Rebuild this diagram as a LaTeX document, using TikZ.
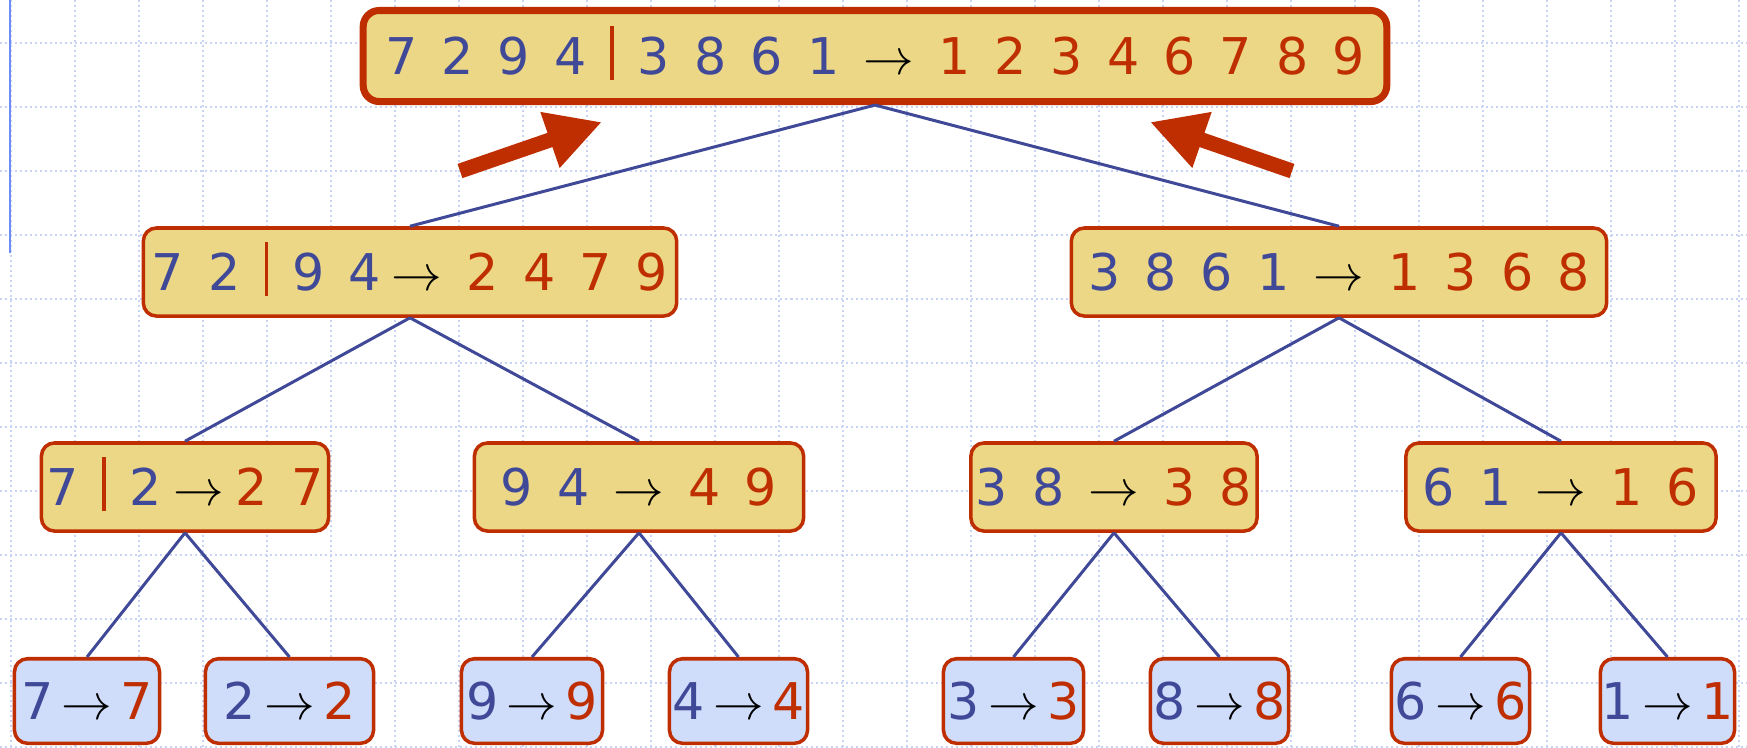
\documentclass[tikz,border=0pt]{standalone}
\usepackage{fontspec}
\setmainfont{DejaVu Sans}[WordSpace=1.5]
\usepackage{xcolor}
\usetikzlibrary{arrows.meta}

\definecolor{unsorted}{RGB}{64,72,152}
\definecolor{sorted}{RGB}{191,46,0}
\definecolor{boxtan}{RGB}{235,215,133}
\definecolor{leafblue}{RGB}{207,220,250}
\definecolor{gridblue}{RGB}{200,212,245}
\definecolor{marginblue}{RGB}{110,140,245}

\newcommand{\unsrt}[1]{\textcolor{unsorted}{#1}}
\newcommand{\srt}[1]{\textcolor{sorted}{#1}}
\newcommand{\divider}{\textcolor{sorted}{\rule[-1.7pt]{0.95pt}{15.6pt}}}
\newcommand{\goes}{$\rightarrow$}
\newcommand{\tightgoes}{$\:\rightarrow\:$}

\tikzset{
  seqbox/.style={draw=sorted, line width=1pt, rounded corners=0.13cm,
    inner xsep=0pt, text height=10.5pt, text depth=0pt,
    font=\fontsize{14.4pt}{17pt}\selectfont},
  mergebox/.style={seqbox, fill=boxtan, minimum height=0.88cm},
  rootbox/.style={mergebox, line width=2pt, rounded corners=0.16cm, minimum height=0.91cm},
  leafbox/.style={seqbox, fill=leafblue, minimum height=0.845cm},
  split/.style={draw=unsorted, line width=0.85pt},
  backarrow/.style={draw=sorted, line width=0.15cm, -{Triangle[length=0.55cm,width=0.55cm]}},
  gridline/.style={gridblue, line width=0.8pt, dash pattern=on 0.02cm off 0.03cm}
}

\begin{document}
\begin{tikzpicture}[x=0.01cm, y=-0.01cm]
    % Draw squared paper.
    \fill[white] (0,0) rectangle (1747,747);
    \useasboundingbox (0,0) rectangle (1747,747);
    \foreach \x in {11,75,...,1739}
        \draw[gridline] (\x,0) -- (\x,747);
    \foreach \y in {43,107,...,747}
        \draw[gridline] (0,\y) -- (1747,\y);
    \draw[marginblue, line width=0.6pt] (10,0) -- (10,253);

    % Draw the merge sort tree.
    \node[rootbox, minimum width=10.23cm] (root) at (875,56)
        {\unsrt{7 2 9 4} \divider{} \unsrt{3 8 6 1} \goes{} \srt{1 2 3 4 6 7 8 9}};

    \node[mergebox, minimum width=5.33cm] (l) at (410,272)
        {\unsrt{7 2} \divider{} \unsrt{9 4}$\:\rightarrow$ \srt{2 4 7 9}};
    \node[mergebox, minimum width=5.35cm] (r) at (1339,272)
        {\unsrt{3 8 6 1} \goes{} \srt{1 3 6 8}};

    \node[mergebox, minimum width=2.87cm] (ll) at (185,487)
        {\unsrt{7} \divider{} \unsrt{2}\tightgoes\srt{2 7}};
    \node[mergebox, minimum width=3.29cm] (lr) at (639,487)
        {\unsrt{9 4} \goes{} \srt{4 9}};
    \node[mergebox, minimum width=2.86cm] (rl) at (1114,487)
        {\unsrt{3 8} \goes{} \srt{3 8}};
    \node[mergebox, minimum width=3.10cm] (rr) at (1561,487)
        {\unsrt{6 1} \goes{} \srt{1 6}};

    \foreach \name/\x/\w/\d in {lll/87/1.45/7, llr/289.5/1.68/2, lrl/532/1.41/9, lrr/738.5/1.38/4,
                                rll/1013.5/1.40/3, rlr/1219.5/1.38/8, rrl/1460.5/1.38/6, rrr/1667.5/1.34/1}
        \node[leafbox, minimum width=\w cm] (\name) at (\x,701)
            {\unsrt{\d}$\,\rightarrow\,$\srt{\d}};

    % Draw the tree edges.
    \foreach \a/\b in {root/l, root/r, l/ll, l/lr, r/rl, r/rr,
                       ll/lll, ll/llr, lr/lrl, lr/lrr, rl/rll, rl/rlr, rr/rrl, rr/rrr}
        \draw[split] (\a.south) -- (\b.north);

    % Draw the merge arrows.
    \coordinate (lt) at (460,171);
    \coordinate (lh) at (602,122);
    \coordinate (rt) at (1292,171);
    \coordinate (rh) at (1150,122);
    \draw[backarrow] (lt) -- (lh);
    \draw[backarrow] (rt) -- (rh);
\end{tikzpicture}
\end{document}
